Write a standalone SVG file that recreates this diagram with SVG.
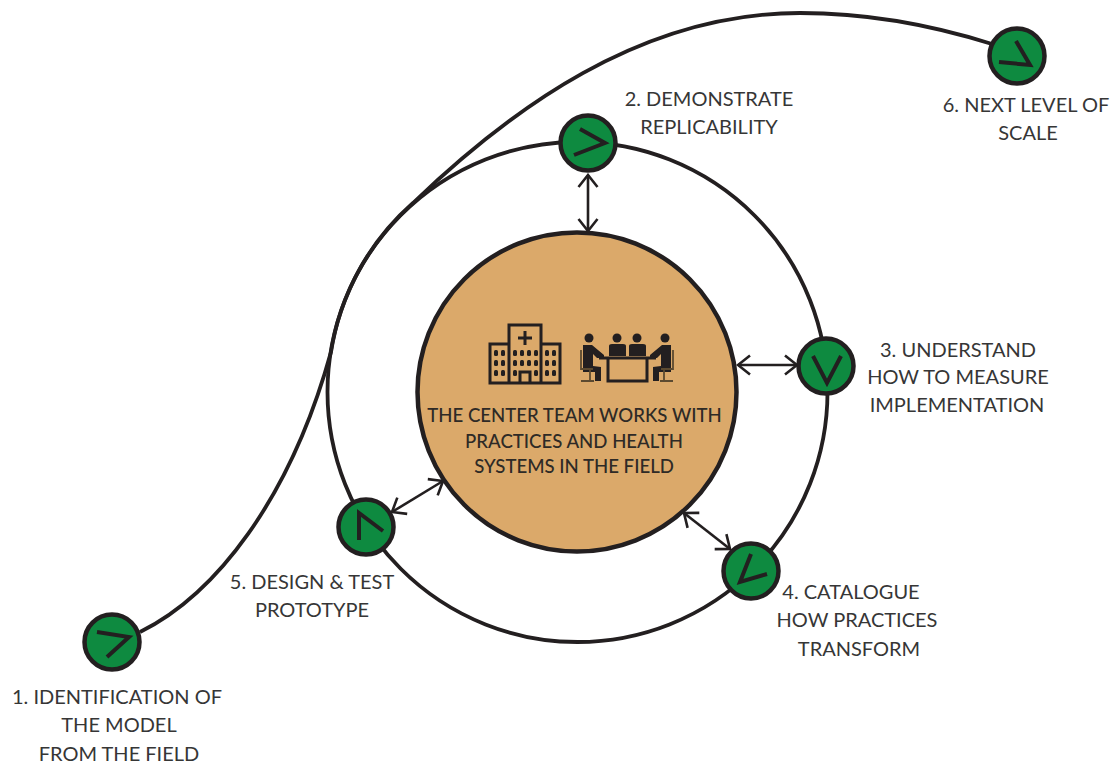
<svg xmlns="http://www.w3.org/2000/svg" width="1113" height="765" viewBox="0 0 1113 765">
<style>
text{font-family:Lato,"Open Sans",sans-serif;font-size:20px;fill:#363636;text-anchor:middle}
.mid{font-size:18.6px;font-weight:500;fill:#2e2a26}
.ring{fill:none;stroke:#231f20;stroke-width:3.8}
.arrow{fill:none;stroke:#231f20;stroke-width:2.6;marker-start:url(#head);marker-end:url(#head)}
.disc{fill:#0e8a40;stroke:#231f20;stroke-width:4.5}
.chev{fill:none;stroke:#231f20;stroke-width:4}
.ico{fill:none;stroke:#231f20;stroke-width:3}
.win{fill:#231f20}
</style>
<defs>
<marker id="head" viewBox="-14 -12 16 24" refX="0" refY="0" markerWidth="16" markerHeight="24" markerUnits="userSpaceOnUse" orient="auto-start-reverse">
<path d="M-12,-9.5 L0,0 L-12,9.5" fill="none" stroke="#231f20" stroke-width="2.6"/>
</marker>
<g id="windows3">
<rect x="0" y="0" width="4" height="6" rx="1.5"/><rect x="0" y="10" width="4" height="6" rx="1.5"/><rect x="0" y="20" width="4" height="6" rx="1.5"/>
</g>
</defs>
<g id="connectors">
<circle class="ring" cx="577.5" cy="392" r="250"/>
<path class="ring" d="M140,632 C215,595 290,500 331,352 A250,250 0 0 1 413,203 C510,110 640,13 800,13 C870,13 935,26 992,44"/>
<path class="arrow" d="M588,175 L588,231"/>
<path class="arrow" d="M738,365 L797,365"/>
<path class="arrow" d="M684,513 L730,549"/>
<path class="arrow" d="M392,512 L443,481"/>
</g>
<g id="center">
<circle cx="577" cy="392" r="159.5" fill="#dba96a" stroke="#231f20" stroke-width="4.5"/>
<g id="hospital-icon">
<path class="ico" stroke-width="3.5" d="M490,383 V344 H509 V325 H541 V344 H560 V383 Z M509,344 V383 M541,344 V383"/>
<path d="M525,331 V345 M518,338 H532" class="ico" stroke-width="3.5"/>
<path class="ico" d="M520,383 V372 H530 V383"/>
<g class="win">
<use href="#windows3" x="494" y="350"/><use href="#windows3" x="501" y="350"/>
<use href="#windows3" x="545" y="350"/><use href="#windows3" x="552" y="350"/>
<use href="#windows3" x="513" y="350"/><use href="#windows3" x="534" y="350"/>
<rect x="520" y="350" width="4" height="6" rx="1.5"/><rect x="520" y="360" width="4" height="6" rx="1.5"/>
<rect x="527" y="350" width="4" height="6" rx="1.5"/><rect x="527" y="360" width="4" height="6" rx="1.5"/>
</g>
</g>
<g id="meeting-icon">
<g class="win">
<circle cx="589" cy="338" r="4.5"/><circle cx="617" cy="338" r="4.5"/><circle cx="637" cy="338" r="4.5"/><circle cx="665" cy="338" r="4.5"/>
<path d="M609,356 V346 Q609,344 612,344 H623 Q626,344 626,346 V356 Z"/>
<path d="M629,356 V346 Q629,344 632,344 H643 Q646,344 646,346 V356 Z"/>
<path d="M583,345 H592 L604,355 V358 H597 L593,354 V366 L601,367 V381 H595 V372 H583 Z"/>
<path d="M671,345 H662 L650,355 V358 H657 L661,354 V366 L653,367 V381 H659 V372 H671 Z"/>
</g>
<path class="ico" stroke-width="2" d="M599,358 H656 M608,358 V381 H647 V358"/>
<path d="M581,350 V369 H593 M581,381 H594 M590,369 V381 M673,350 V369 H661 M673,381 H660 M664,369 V381" fill="none" stroke="#5c4a30" stroke-width="1.8"/>
</g>
<text class="mid" x="574.5" y="422">THE CENTER TEAM WORKS WITH</text>
<text class="mid" x="574" y="448">PRACTICES AND HEALTH</text>
<text class="mid" x="574" y="473">SYSTEMS IN THE FIELD</text>
</g>
<g id="node1">
<circle class="disc" cx="112" cy="642" r="27.5"/>
<path class="chev" d="M97,632 L129,637 L107,657"/>
<text x="117" y="704">1. IDENTIFICATION OF</text>
<text x="119" y="732">THE MODEL</text>
<text x="119" y="761">FROM THE FIELD</text>
</g>
<g id="node2">
<circle class="disc" cx="588" cy="143" r="27.5"/>
<path class="chev" d="M580,129 L605,143 L574,155"/>
<text x="709" y="106">2. DEMONSTRATE</text>
<text x="709" y="134">REPLICABILITY</text>
</g>
<g id="node3">
<circle class="disc" cx="826" cy="366" r="27.5"/>
<path class="chev" d="M813,356 L827,383 L841,356"/>
<text x="958" y="357">3. UNDERSTAND</text>
<text x="958" y="384">HOW TO MEASURE</text>
<text x="957" y="412">IMPLEMENTATION</text>
</g>
<g id="node4">
<circle class="disc" cx="751" cy="571" r="27.5"/>
<path class="chev" d="M751,554 L740,582 L767,574"/>
<text x="851" y="599">4. CATALOGUE</text>
<text x="857" y="627">HOW PRACTICES</text>
<text x="859" y="656">TRANSFORM</text>
</g>
<g id="node5">
<circle class="disc" cx="366" cy="527" r="27.5"/>
<path class="chev" d="M359,540 L359,513 L383,531"/>
<text x="312" y="589">5. DESIGN &amp; TEST</text>
<text x="312" y="617">PROTOTYPE</text>
</g>
<g id="node6">
<circle class="disc" cx="1017" cy="56" r="27.5"/>
<path class="chev" d="M1016,41 L1030,65 L999,62"/>
<text x="1026" y="112">6. NEXT LEVEL OF</text>
<text x="1028" y="140">SCALE</text>
</g>
</svg>
